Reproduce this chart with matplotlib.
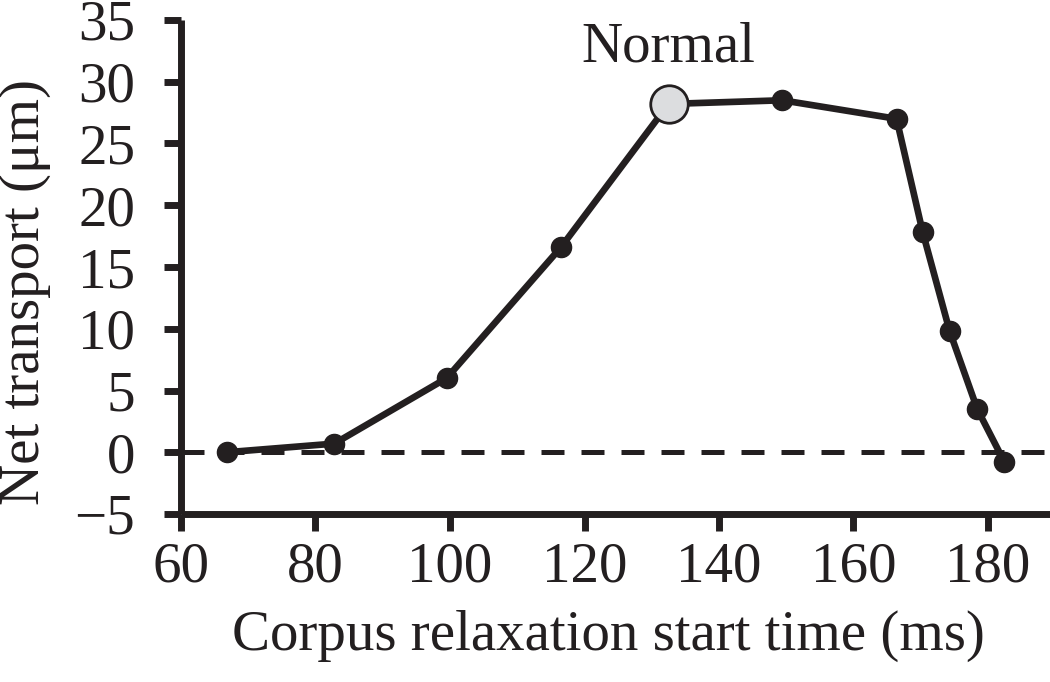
import matplotlib
matplotlib.use("Agg")
import matplotlib.pyplot as plt

# Data
start_time = [66.8, 82.8, 99.5, 116.5, 132.5, 149.4, 166.4, 170.3, 174.3, 178.4, 182.4]
net_transport = [0.0, 0.7, 6.0, 16.6, 28.2, 28.5, 27.0, 17.8, 9.8, 3.5, -0.75]
normal_index = 4
x_ticks = [60, 80, 100, 120, 140, 160, 180]
y_ticks = [-5, 0, 5, 10, 15, 20, 25, 30, 35]
y_tick_labels = ["\u22125", "0", "5", "10", "15", "20", "25", "30", "35"]

ink = "#231f20"
plt.rcParams['font.family'] = ['Liberation Serif', 'DejaVu Serif']
fs = 41

fig = plt.figure(figsize=(10.5, 6.82), dpi=100)
ax = fig.add_axes([181/1050, (682-514)/682, 1 - 181/1050, (514-20)/682])
ax.set_xlim(60, 60 + (1050-181)/6.725)
ax.set_ylim(-5, 35)

for s in ["top", "right"]:
    ax.spines[s].set_visible(False)
for s in ["left", "bottom"]:
    ax.spines[s].set_linewidth(5)
    ax.spines[s].set_color(ink)
    ax.spines[s].set_capstyle("butt")

ax.axhline(0, color=ink, lw=3.6, linestyle=(0, (4.6, 3.4)), zorder=1)

ax.plot(start_time, net_transport, color=ink, lw=4.8, marker="o", ms=14.5,
        mfc=ink, mec=ink, zorder=3, solid_joinstyle="round")
ax.plot([start_time[normal_index]], [net_transport[normal_index]], marker="o",
        ms=27, mfc="#dcdddf", mec=ink, mew=2, zorder=4, linestyle="none")
ax.text(start_time[normal_index], 31.6, "Normal", fontsize=fs, color=ink,
        ha="center", va="baseline")

ax.set_xticks(x_ticks)
ax.set_xticklabels([str(v) for v in x_ticks])
ax.set_yticks(y_ticks)
ax.set_yticklabels(y_tick_labels)
ax.tick_params(axis="both", direction="out", length=12, width=5, color=ink,
               labelsize=fs, labelcolor=ink)
ax.tick_params(axis="x", pad=8)
ax.tick_params(axis="y", pad=21)

fig.text((232+985)/2/1050, 32/682, "Corpus relaxation start time (ms)",
         fontsize=fs, color=ink, ha="center", va="baseline")
ax.set_ylabel("Net transport (\u03bcm)", fontsize=fs, color=ink)
ax.yaxis.set_label_coords(-0.15, 0.45)

fig.savefig("out.png", dpi=100)
